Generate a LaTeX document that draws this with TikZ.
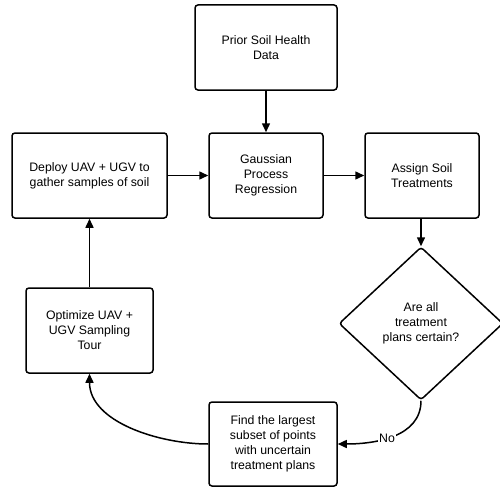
\documentclass[tikz,border=0pt]{standalone}
\usepackage{fontspec}
\setmainfont{Liberation Sans}
\usetikzlibrary{shapes.geometric,arrows.meta}
\begin{document}
\begin{tikzpicture}[x=1pt,y=-1pt,
  box/.style={draw=black,line width=1.5pt,rounded corners=3pt,fill=white,
    align=center,inner sep=0pt,font=\fontsize{12.3}{15}\selectfont},
  dec/.style={draw=black,line width=1.5pt,shape=diamond,rounded corners=3pt,
    inner sep=0pt,align=center,font=\fontsize{12.3}{15}\selectfont},
  arr/.style={line width=1.5pt,-{Triangle[length=9pt,width=8pt]}},
  lbl/.style={fill=white,inner sep=1pt,font=\fontsize{12.3}{15}\selectfont}]
\useasboundingbox (0,0) rectangle (500,487);
\node[box,minimum width=142pt,minimum height=85pt] (prior) at (266,47.5) {Prior Soil Health\\Data};
\node[box,minimum width=114pt,minimum height=85pt] (gpr) at (266,175.5) {Gaussian\\Process\\Regression};
\node[box,minimum width=155pt,minimum height=85pt] (deploy) at (89.5,175.5) {Deploy UAV + UGV to\\gather samples of soil};
\node[box,minimum width=114pt,minimum height=85pt] (assign) at (422,175.5) {Assign Soil\\Treatments};
\node[dec,minimum width=164pt,minimum height=153pt] (certain) at (421,323.5) {Are all\\treatment\\plans certain?};
\node[box,minimum width=127pt,minimum height=85pt] (optimize) at (89.5,330.5) {Optimize UAV +\\UGV Sampling\\Tour};
\node[box,minimum width=128pt,minimum height=84pt] (find) at (273,444) {Find the largest\\subset of points\\with uncertain\\treatment plans};
\draw[arr] (prior.south) -- (gpr.north);
\draw[arr] (deploy.east) -- (gpr.west);
\draw[arr] (gpr.east) -- (assign.east -| assign.west);
\draw[arr] (assign.south -| certain.north) -- (certain.north);
\draw[arr] (optimize.north) -- (deploy.south);
\draw[arr] (find.west) to[out=180,in=-90,looseness=0.9] (optimize.south);
\draw[arr] (certain.south) to[out=-90,in=0,looseness=1.0] node[lbl,pos=0.56] (no) {No} (find.east);
\end{tikzpicture}
\end{document}
